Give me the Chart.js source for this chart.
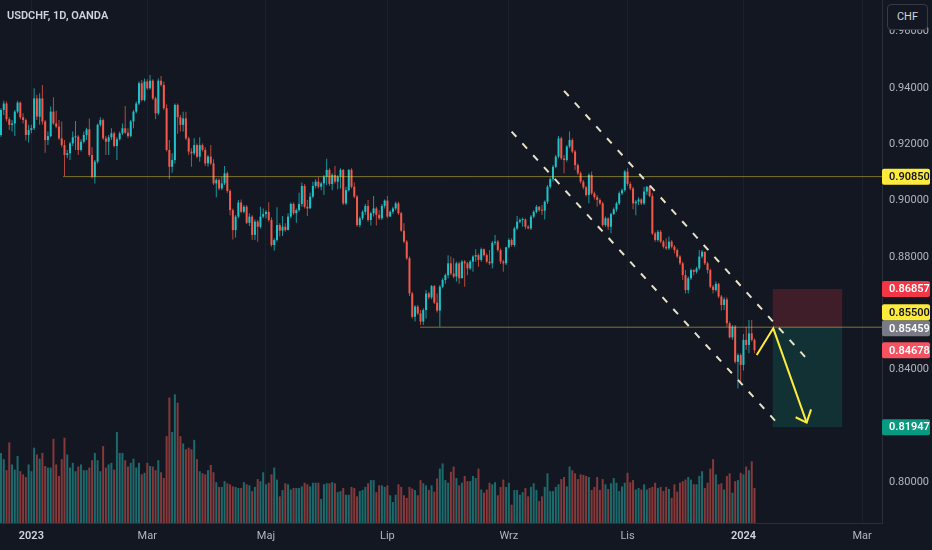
<!DOCTYPE html>
<html>
<head>
<meta charset="utf-8">
<script src="https://cdn.jsdelivr.net/npm/chart.js@4.4.1/dist/chart.umd.min.js"></script>
<style>
  html, body { margin: 0; padding: 0; background: #131722; }
  #wrap { position: relative; width: 932px; height: 550px; overflow: hidden; }
  #title { position: absolute; left: 7px; top: 9px; font: 600 11px Roboto, sans-serif; line-height: 13px; color: #d1d4dc; }
  #unit { position: absolute; left: 887px; top: 4px; width: 41px; height: 26px; box-sizing: border-box;
          border: 1px solid #363a45; border-radius: 4px; background: #131722; color: #d1d4dc;
          font: 11px Roboto, sans-serif; line-height: 24px; text-align: center; }
</style>
</head>
<body>
<div id="wrap">
  <canvas id="chart" width="932" height="550"></canvas>
  <div id="title">USDCHF, 1D, OANDA</div>
  <div id="unit">CHF</div>
</div>
<script>
// Daily bars: mid-Dec 2022 .. early Jan 2024 (bar index 0..273)
const opens = [
  0.9233,0.9322,0.9345,0.9289,0.9269,0.9274,0.9316,0.9348,0.9296,0.9286,
  0.9233,0.9251,0.9257,0.9363,0.9298,0.9363,0.9281,0.9215,0.9229,0.9316,
  0.9274,0.9263,0.9221,0.9197,0.9162,0.9168,0.9203,0.9225,0.9227,0.9180,
  0.9209,0.9233,0.9253,0.9162,0.9085,0.9138,0.9269,0.9286,0.9221,0.9209,
  0.9225,0.9239,0.9194,0.9218,0.9239,0.9257,0.9241,0.9229,0.9281,0.9316,
  0.9345,0.9417,0.9357,0.9423,0.9399,0.9426,0.9363,0.9310,0.9426,0.9411,
  0.9328,0.9180,0.9120,0.9144,0.9340,0.9296,0.9269,0.9292,0.9221,0.9174,
  0.9168,0.9197,0.9156,0.9197,0.9180,0.9132,0.9156,0.9132,0.9061,0.9073,
  0.9043,0.9061,0.9097,0.9034,0.8966,0.8895,0.8943,0.8993,0.8960,0.8978,
  0.8921,0.8943,0.8878,0.8925,0.8907,0.8943,0.8952,0.8960,0.8931,0.8842,
  0.8860,0.8913,0.8893,0.8907,0.8895,0.8943,0.8988,0.8955,0.8966,0.8988,
  0.9052,0.8978,0.8972,0.9014,0.9052,0.9067,0.9049,0.9061,0.9085,0.9109,
  0.9059,0.9091,0.9067,0.9085,0.9109,0.8990,0.9037,0.9109,0.9049,0.9014,
  0.8913,0.8937,0.8960,0.8981,0.8931,0.8955,0.8972,0.8949,0.8937,0.8981,
  0.9000,0.8943,0.8960,0.8972,0.8990,0.8955,0.8893,0.8854,0.8795,0.8670,
  0.8587,0.8623,0.8599,0.8570,0.8611,0.8670,0.8656,0.8696,0.8637,0.8609,
  0.8694,0.8718,0.8735,0.8777,0.8741,0.8730,0.8777,0.8724,0.8783,0.8777,
  0.8759,0.8783,0.8801,0.8806,0.8789,0.8827,0.8806,0.8783,0.8777,0.8850,
  0.8854,0.8824,0.8783,0.8777,0.8834,0.8860,0.8842,0.8901,0.8925,0.8931,
  0.8933,0.8907,0.8901,0.8943,0.8960,0.8978,0.8966,0.8964,0.8996,0.9049,
  0.9076,0.9120,0.9156,0.9221,0.9150,0.9144,0.9192,0.9215,0.9174,0.9126,
  0.9097,0.9067,0.9047,0.9020,0.9091,0.9026,0.9012,0.9002,0.8990,0.8913,
  0.8937,0.8907,0.8952,0.8969,0.8990,0.9026,0.9037,0.9103,0.9059,0.9043,
  0.8990,0.8996,0.9004,0.8990,0.9032,0.9049,0.9016,0.8883,0.8860,0.8889,
  0.8854,0.8836,0.8830,0.8854,0.8836,0.8824,0.8801,0.8777,0.8735,0.8682,
  0.8724,0.8753,0.8747,0.8759,0.8801,0.8818,0.8777,0.8753,0.8694,0.8682,
  0.8704,0.8659,0.8629,0.8649,0.8564,0.8514,0.8552,0.8427,0.8451,0.8416,
  0.8505,0.8487,0.8528,0.8505
];
const highs = [
  0.9328,0.9355,0.9352,0.9296,0.9286,0.9322,0.9355,0.9352,0.9310,0.9292,
  0.9269,0.9269,0.9399,0.9375,0.9381,0.9411,0.9286,0.9245,0.9334,0.9367,
  0.9319,0.9286,0.9281,0.9215,0.9180,0.9209,0.9245,0.9283,0.9233,0.9218,
  0.9245,0.9259,0.9292,0.9189,0.9144,0.9274,0.9296,0.9292,0.9229,0.9233,
  0.9257,0.9245,0.9225,0.9245,0.9274,0.9336,0.9257,0.9286,0.9322,0.9352,
  0.9423,0.9428,0.9434,0.9431,0.9446,0.9431,0.9369,0.9434,0.9443,0.9423,
  0.9342,0.9215,0.9168,0.9345,0.9345,0.9304,0.9316,0.9316,0.9227,0.9186,
  0.9221,0.9203,0.9225,0.9203,0.9189,0.9162,0.9197,0.9147,0.9079,0.9079,
  0.9085,0.9123,0.9103,0.9040,0.8972,0.8949,0.9002,0.9004,0.8984,0.8984,
  0.8955,0.8949,0.8933,0.8931,0.8978,0.8972,0.8966,0.8994,0.8940,0.8866,
  0.8976,0.8919,0.8945,0.8919,0.8955,0.8993,0.8993,0.8972,0.9028,0.9064,
  0.9059,0.9002,0.9028,0.9067,0.9076,0.9083,0.9067,0.9091,0.9149,0.9115,
  0.9097,0.9123,0.9091,0.9115,0.9112,0.9049,0.9112,0.9115,0.9064,0.9020,
  0.8943,0.8966,0.8988,0.9002,0.8960,0.9016,0.8978,0.8966,0.8988,0.9004,
  0.9016,0.8966,0.8978,0.8996,0.8996,0.8960,0.8919,0.8860,0.8801,0.8676,
  0.8629,0.8629,0.8611,0.8617,0.8682,0.8676,0.8700,0.8700,0.8670,0.8700,
  0.8724,0.8741,0.8806,0.8801,0.8795,0.8783,0.8783,0.8789,0.8789,0.8783,
  0.8789,0.8806,0.8827,0.8812,0.8833,0.8830,0.8812,0.8824,0.8856,0.8878,
  0.8860,0.8830,0.8789,0.8836,0.8866,0.8866,0.8907,0.8945,0.8937,0.8940,
  0.8936,0.8913,0.8949,0.8966,0.8984,0.8981,0.8984,0.9000,0.9055,0.9083,
  0.9126,0.9162,0.9229,0.9227,0.9162,0.9197,0.9245,0.9221,0.9180,0.9132,
  0.9103,0.9073,0.9052,0.9097,0.9103,0.9032,0.9020,0.9008,0.8996,0.8943,
  0.8940,0.8957,0.8975,0.8996,0.9032,0.9043,0.9109,0.9115,0.9067,0.9049,
  0.9002,0.9012,0.9008,0.9049,0.9052,0.9055,0.9026,0.8889,0.8895,0.8895,
  0.8860,0.8866,0.8872,0.8860,0.8842,0.8830,0.8806,0.8783,0.8753,0.8730,
  0.8759,0.8756,0.8765,0.8824,0.8824,0.8818,0.8783,0.8759,0.8700,0.8712,
  0.8708,0.8664,0.8656,0.8656,0.8570,0.8558,0.8558,0.8457,0.8457,0.8526,
  0.8552,0.8576,0.8576,0.8510
];
const lows = [
  0.9227,0.9304,0.9281,0.9251,0.9245,0.9229,0.9310,0.9289,0.9274,0.9213,
  0.9206,0.9239,0.9251,0.9286,0.9269,0.9269,0.9170,0.9197,0.9225,0.9269,
  0.9257,0.9215,0.9189,0.9087,0.9150,0.9144,0.9194,0.9180,0.9162,0.9174,
  0.9203,0.9215,0.9156,0.9079,0.9061,0.9132,0.9263,0.9215,0.9162,0.9162,
  0.9215,0.9189,0.9144,0.9213,0.9233,0.9237,0.9221,0.9225,0.9257,0.9310,
  0.9340,0.9352,0.9352,0.9393,0.9395,0.9357,0.9289,0.9304,0.9405,0.9322,
  0.9174,0.9076,0.9099,0.9132,0.9237,0.9245,0.9245,0.9215,0.9162,0.9120,
  0.9162,0.9150,0.9138,0.9174,0.9123,0.9120,0.9126,0.9055,0.9012,0.9037,
  0.9037,0.9055,0.9028,0.8948,0.8862,0.8869,0.8937,0.8955,0.8955,0.8917,
  0.8910,0.8860,0.8860,0.8854,0.8901,0.8937,0.8937,0.8925,0.8836,0.8822,
  0.8854,0.8872,0.8874,0.8889,0.8895,0.8937,0.8949,0.8921,0.8960,0.8978,
  0.8972,0.8945,0.8972,0.9008,0.9043,0.9043,0.9037,0.9020,0.9055,0.9052,
  0.9037,0.9061,0.9040,0.9043,0.8984,0.8984,0.9032,0.9043,0.9008,0.8907,
  0.8905,0.8931,0.8949,0.8925,0.8911,0.8943,0.8911,0.8931,0.8931,0.8972,
  0.8937,0.8943,0.8952,0.8966,0.8949,0.8889,0.8848,0.8789,0.8661,0.8581,
  0.8570,0.8593,0.8558,0.8558,0.8581,0.8649,0.8649,0.8632,0.8602,0.8552,
  0.8688,0.8704,0.8724,0.8735,0.8724,0.8712,0.8704,0.8724,0.8694,0.8735,
  0.8753,0.8747,0.8783,0.8765,0.8783,0.8801,0.8777,0.8771,0.8759,0.8842,
  0.8818,0.8775,0.8747,0.8771,0.8830,0.8836,0.8836,0.8895,0.8919,0.8907,
  0.8898,0.8898,0.8895,0.8937,0.8955,0.8960,0.8949,0.8933,0.8988,0.9043,
  0.9067,0.9115,0.9150,0.9144,0.9097,0.9138,0.9186,0.9168,0.9109,0.9091,
  0.9061,0.9040,0.9014,0.8990,0.9020,0.9004,0.8978,0.8984,0.8907,0.8907,
  0.8895,0.8884,0.8949,0.8960,0.8984,0.9020,0.9032,0.9052,0.9037,0.8969,
  0.8948,0.8984,0.8984,0.8984,0.9020,0.9012,0.8878,0.8854,0.8854,0.8848,
  0.8830,0.8824,0.8824,0.8830,0.8812,0.8795,0.8771,0.8718,0.8670,0.8670,
  0.8718,0.8735,0.8741,0.8753,0.8795,0.8771,0.8741,0.8688,0.8670,0.8676,
  0.8653,0.8609,0.8611,0.8552,0.8510,0.8505,0.8421,0.8332,0.8356,0.8396,
  0.8469,0.8457,0.8499,0.8457
];
const closes = [
  0.9322,0.9345,0.9289,0.9269,0.9274,0.9316,0.9348,0.9296,0.9286,0.9233,
  0.9251,0.9257,0.9363,0.9298,0.9363,0.9281,0.9215,0.9229,0.9316,0.9274,
  0.9263,0.9221,0.9197,0.9162,0.9168,0.9203,0.9225,0.9227,0.9180,0.9209,
  0.9233,0.9253,0.9162,0.9085,0.9138,0.9269,0.9286,0.9221,0.9209,0.9225,
  0.9239,0.9194,0.9218,0.9239,0.9257,0.9241,0.9229,0.9281,0.9316,0.9345,
  0.9417,0.9357,0.9423,0.9399,0.9426,0.9363,0.9310,0.9426,0.9411,0.9328,
  0.9180,0.9120,0.9144,0.9340,0.9296,0.9269,0.9292,0.9221,0.9174,0.9168,
  0.9197,0.9156,0.9197,0.9180,0.9132,0.9156,0.9132,0.9061,0.9073,0.9043,
  0.9061,0.9097,0.9034,0.8966,0.8895,0.8943,0.8993,0.8960,0.8978,0.8921,
  0.8943,0.8878,0.8925,0.8907,0.8943,0.8952,0.8960,0.8931,0.8842,0.8860,
  0.8913,0.8893,0.8907,0.8895,0.8943,0.8988,0.8955,0.8966,0.8988,0.9052,
  0.8978,0.8972,0.9014,0.9052,0.9067,0.9049,0.9061,0.9085,0.9109,0.9059,
  0.9091,0.9067,0.9085,0.9109,0.8990,0.9037,0.9109,0.9049,0.9014,0.8913,
  0.8937,0.8960,0.8981,0.8931,0.8955,0.8972,0.8949,0.8937,0.8981,0.9000,
  0.8943,0.8960,0.8972,0.8990,0.8955,0.8893,0.8854,0.8795,0.8670,0.8587,
  0.8623,0.8599,0.8570,0.8611,0.8670,0.8656,0.8696,0.8637,0.8609,0.8694,
  0.8718,0.8735,0.8777,0.8741,0.8730,0.8777,0.8724,0.8783,0.8777,0.8759,
  0.8783,0.8801,0.8806,0.8789,0.8827,0.8806,0.8783,0.8777,0.8850,0.8854,
  0.8824,0.8783,0.8777,0.8834,0.8860,0.8842,0.8901,0.8925,0.8931,0.8933,
  0.8907,0.8901,0.8943,0.8960,0.8978,0.8966,0.8964,0.8996,0.9049,0.9076,
  0.9120,0.9156,0.9221,0.9150,0.9144,0.9192,0.9215,0.9174,0.9126,0.9097,
  0.9067,0.9047,0.9020,0.9091,0.9026,0.9012,0.9002,0.8990,0.8913,0.8937,
  0.8907,0.8952,0.8969,0.8990,0.9026,0.9037,0.9103,0.9059,0.9043,0.8990,
  0.8996,0.9004,0.8990,0.9032,0.9049,0.9016,0.8883,0.8860,0.8889,0.8854,
  0.8836,0.8830,0.8854,0.8836,0.8824,0.8801,0.8777,0.8735,0.8682,0.8724,
  0.8753,0.8747,0.8759,0.8801,0.8818,0.8777,0.8753,0.8694,0.8682,0.8704,
  0.8659,0.8629,0.8649,0.8564,0.8514,0.8552,0.8427,0.8451,0.8416,0.8505,
  0.8487,0.8528,0.8505,0.8468
];
// Volume (arbitrary units, K)
const volumes = [
  134,122,101,154,112,102,128,99,93,88,
  112,99,144,131,123,134,109,106,106,161,
  112,90,122,163,131,106,115,99,108,112,
  101,101,106,120,134,120,99,147,106,112,
  115,102,174,134,134,120,108,115,123,106,
  115,93,96,115,109,108,101,120,97,86,
  166,240,174,246,230,166,152,141,144,141,
  159,122,99,95,93,101,111,97,78,69,
  69,80,76,74,70,69,67,67,78,74,
  72,61,69,84,80,97,74,77,93,106,
  83,51,63,76,74,64,67,67,67,70,
  77,74,70,77,77,77,46,74,76,76,
  78,76,59,61,67,54,54,69,67,51,
  61,63,69,76,82,82,59,72,72,69,
  72,53,40,54,74,69,53,48,69,66,
  63,53,82,76,72,63,72,60,85,104,
  114,82,77,98,108,86,72,77,90,80,
  80,90,86,104,64,58,64,77,74,78,
  53,69,83,69,77,35,63,63,54,59,
  67,51,69,76,63,42,51,69,95,61,
  61,69,74,84,88,70,108,101,95,84,
  93,92,90,88,63,69,88,63,84,74,
  65,76,86,77,61,70,77,96,78,82,
  64,67,64,74,64,67,69,77,67,69,
  61,69,65,48,74,60,77,80,83,88,
  83,74,74,90,99,67,77,104,122,93,
  74,76,64,90,95,58,80,82,96,93,
  108,101,118,67
];

// Time axis: bar index of each month gridline and its label
const monthTickIdx = [11, 53, 96, 140, 184, 227, 269, 312];
const monthTickLabels = ['2023', 'Mar', 'Maj', 'Lip', 'Wrz', 'Lis', '2024', 'Mar'];
const priceTicks = [0.80, 0.82, 0.84, 0.86, 0.88, 0.90, 0.92, 0.94, 0.96];

// Visible range (bar index / price)
const X_MIN = -0.362, X_MAX = 319.2;
const Y_MIN = 0.78542, Y_MAX = 0.97127;

// Drawings (bar index, price)
const resistanceLine = [{x: 22.5, y: 0.9085}, {x: X_MAX, y: 0.9085}];
const supportLine = [{x: 151.8, y: 0.8550}, {x: X_MAX, y: 0.8550}];
const channelUpper = [{x: 204.0, y: 0.9390}, {x: 293.4, y: 0.8422}];
const channelLower = [{x: 185.0, y: 0.9245}, {x: 282.5, y: 0.8196}];
const arrowPath = [{x: 273.8, y: 0.8451}, {x: 279.8, y: 0.8546}, {x: 291.9, y: 0.8211}];
const arrowHead = [{x: 287.9, y: 0.8230}, {x: 291.9, y: 0.8211}, {x: 293.5, y: 0.8258}];

// Short position tool
const posStart = 279.6, posEnd = 304.8;
const posStop = 0.86857, posEntry = 0.85500, posTarget = 0.81947;

// Price scale markers
const markerPrices = [0.90850, 0.86857, 0.85500, 0.85459, 0.84678, 0.81947];

// Styles
const FONT = 'Roboto, "Liberation Sans", sans-serif';
const BG = '#131722';
const UP = '#1ec3c9', DOWN = '#f2594a';
const UP_WICK = '#1b979d', DOWN_WICK = '#b9483c';
const VOL_UP = '#1d6a6c', VOL_DOWN = '#86393a';
const GRID = '#1c202b';
const AXIS_LINE = '#2a2e39';
const AXIS_TEXT = '#b2b5be';
const LEVEL = 'rgba(255, 235, 59, 0.45)';
const DASH = '#e6e2c8';
const ARROW = '#ffeb3b';
const markerFill = ['#ffeb3b', '#f23645', '#ffeb3b', '#787b86', '#f7525f', '#089981'];
const markerText = ['#131722', '#ffffff', '#131722', '#ffffff', '#ffffff', '#ffffff'];

Chart.defaults.font.family = FONT;

const isUp = closes.map((c, i) => c >= opens[i]);
const isYear = v => {
    const k = monthTickIdx.indexOf(v);
    return k >= 0 && /^\d{4}$/.test(monthTickLabels[k]);
};

function lineSet(data, color, width, dash, order) {
    return {
        type: 'line',
        data: data,
        yAxisID: 'y',
        borderColor: color,
        borderWidth: width,
        borderDash: dash,
        borderCapStyle: 'butt',
        pointRadius: 0,
        fill: false,
        tension: 0,
        order: order
    };
}

function roundRect(ctx, x, y, w, h, r) {
    ctx.beginPath();
    if (ctx.roundRect) ctx.roundRect(x, y, w, h, r);
    else ctx.rect(x, y, w, h);
    ctx.fill();
}

// Background, position box and price markers
const overlay = {
    id: 'overlay',
    beforeDraw(chart) {
        const {ctx, width, height} = chart;
        ctx.save();
        ctx.fillStyle = BG;
        ctx.fillRect(0, 0, width, height);
        ctx.restore();
    },
    beforeDatasetsDraw(chart) {
        const {ctx, scales: {x, y}} = chart;
        const x0 = x.getPixelForValue(posStart);
        const x1 = x.getPixelForValue(posEnd);
        const yStop = y.getPixelForValue(posStop);
        const yEntry = y.getPixelForValue(posEntry);
        const yTarget = y.getPixelForValue(posTarget);
        ctx.save();
        ctx.fillStyle = 'rgba(242, 54, 69, 0.2)';
        ctx.fillRect(x0, yStop, x1 - x0, yEntry - yStop);
        ctx.fillStyle = 'rgba(8, 153, 129, 0.2)';
        ctx.fillRect(x0, yEntry, x1 - x0, yTarget - yEntry);
        ctx.restore();
    },
    afterDraw(chart) {
        const {ctx, scales: {y}} = chart;
        const w = 48, h = 16;
        const items = markerPrices
            .map((p, k) => ({p, k, py: y.getPixelForValue(p)}))
            .sort((a, b) => b.py - a.py);
        let prev = Infinity;
        ctx.save();
        ctx.font = '600 11px ' + FONT;
        ctx.textBaseline = 'middle';
        ctx.textAlign = 'left';
        for (const it of items) {
            const cy = Math.min(it.py, prev - h);
            prev = cy;
            ctx.fillStyle = markerFill[it.k];
            roundRect(ctx, y.left, cy - h / 2, w, h, 2);
            ctx.fillStyle = markerText[it.k];
            ctx.fillText(it.p.toFixed(5), y.left + 7, cy + 0.5);
        }
        ctx.restore();
    }
};

new Chart(document.getElementById('chart'), {
    type: 'bar',
    data: {
        datasets: [
            {
                label: 'volume',
                yAxisID: 'yv',
                data: volumes.map((v, i) => ({x: i, y: v})),
                backgroundColor: isUp.map(u => u ? VOL_UP : VOL_DOWN),
                barThickness: 2,
                grouped: false,
                inflateAmount: 0,
                order: 10
            },
            {
                label: 'wicks',
                yAxisID: 'y',
                data: highs.map((hi, i) => ({x: i, y: [lows[i], hi]})),
                backgroundColor: isUp.map(u => u ? UP_WICK : DOWN_WICK),
                barThickness: 1,
                grouped: false,
                inflateAmount: 0,
                order: 9
            },
            {
                label: 'bodies',
                yAxisID: 'y',
                data: closes.map((c, i) => ({x: i, y: [opens[i], c]})),
                backgroundColor: isUp.map(u => u ? UP : DOWN),
                barThickness: 2,
                minBarLength: 1,
                grouped: false,
                inflateAmount: 0,
                order: 8
            },
            lineSet(resistanceLine, LEVEL, 1, [], 5),
            lineSet(supportLine, LEVEL, 1, [], 5),
            lineSet(channelUpper, DASH, 2, [7, 9], 4),
            lineSet(channelLower, DASH, 2, [7, 9], 4),
            lineSet(arrowPath, ARROW, 2, [], 1),
            lineSet(arrowHead, ARROW, 2, [], 1)
        ]
    },
    options: {
        responsive: false,
        animation: false,
        events: [],
        layout: {padding: 0},
        plugins: {
            legend: {display: false},
            tooltip: {enabled: false}
        },
        scales: {
            x: {
                type: 'linear',
                position: 'bottom',
                min: X_MIN,
                max: X_MAX,
                offset: false,
                grid: {color: GRID, drawTicks: false, offset: false},
                border: {display: true, color: AXIS_LINE},
                ticks: {
                    autoSkip: false,
                    maxRotation: 0,
                    padding: 7,
                    color: c => isYear(c.tick && c.tick.value) ? '#d1d4dc' : AXIS_TEXT,
                    font: c => ({family: FONT, size: 11, weight: isYear(c.tick && c.tick.value) ? '600' : '400'}),
                    callback: v => {
                        const k = monthTickIdx.indexOf(v);
                        return k >= 0 ? monthTickLabels[k] : '';
                    }
                },
                afterBuildTicks: s => { s.ticks = monthTickIdx.map(v => ({value: v})); },
                afterFit: s => { s.height = 27; s.paddingLeft = 0; s.paddingRight = 0; }
            },
            y: {
                type: 'linear',
                position: 'right',
                min: Y_MIN,
                max: Y_MAX,
                grid: {display: false, drawTicks: false},
                border: {display: true, color: AXIS_LINE},
                ticks: {
                    padding: 7,
                    color: AXIS_TEXT,
                    font: {family: FONT, size: 11},
                    callback: v => v.toFixed(5)
                },
                afterBuildTicks: s => { s.ticks = priceTicks.map(v => ({value: v})); },
                afterFit: s => { s.width = 50; s.paddingTop = 0; s.paddingBottom = 0; }
            },
            yv: {
                type: 'linear',
                display: false,
                min: 0,
                max: 1000
            }
        }
    },
    plugins: [overlay]
});
</script>
</body>
</html>
